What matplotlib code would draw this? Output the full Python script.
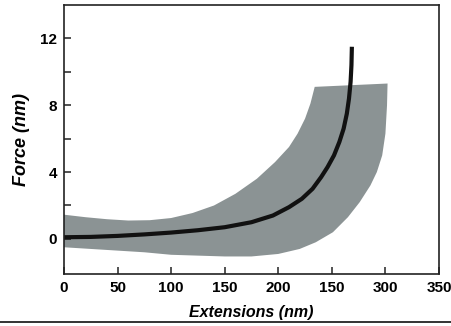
import numpy as np
import matplotlib
matplotlib.use("Agg")
import matplotlib.pyplot as plt
from matplotlib.lines import Line2D

plt.rcParams['font.family'] = ['Liberation Sans', 'DejaVu Sans']

# black force-extension curve
curve_x = [0, 25, 50, 75, 100, 125, 150, 175, 195, 210, 222, 232, 240, 246,
           252, 257, 261, 264, 266, 267.5, 268.3, 268.7]
curve_y = [0.1, 0.12, 0.18, 0.27, 0.38, 0.52, 0.7, 1.0, 1.4, 1.9, 2.4, 3.0, 3.7,
           4.3, 5.0, 5.8, 6.6, 7.5, 8.4, 9.4, 10.4, 11.5]

# grey band, upper edge (left to right)
upper_x = [0, 20, 40, 60, 80, 100, 120, 140, 160, 180, 197, 210, 218, 225, 230, 234, 302]
upper_y = [1.45, 1.3, 1.18, 1.1, 1.12, 1.25, 1.55, 2.0, 2.7, 3.6, 4.6, 5.5, 6.3,
           7.2, 8.1, 9.1, 9.3]
# grey band, lower edge (right to left)
lower_x = [301.5, 300, 297, 292, 286, 276, 265, 251, 235, 220, 200, 175, 150,
           125, 100, 75, 50, 25, 0]
lower_y = [8.0, 6.3, 5.0, 4.0, 3.2, 2.2, 1.3, 0.4, -0.2, -0.6, -0.9, -1.05,
           -1.05, -1.0, -0.95, -0.8, -0.7, -0.6, -0.5]

xticks = [0, 50, 100, 150, 200, 250, 300, 350]
xtick_labels = ['0', '50', '100', '150', '200', '150', '300', '350']
yticks = [0, 4, 8, 12]
yminor = [2, 6, 10]

fig = plt.figure(figsize=(4.52, 3.26), dpi=100)
ax = fig.add_axes([0.1416, 0.1595, 0.8296, 0.8252])

ax.fill(upper_x + lower_x, upper_y + lower_y, color='#8b9394', lw=0, zorder=1)
ax.plot(curve_x, curve_y, color='#111111', lw=3.0, solid_capstyle='butt', zorder=2)

ax.set_xlim(0, 350)
ax.set_ylim(-2.1, 14.0)
ax.set_xticks(xticks)
ax.set_xticklabels(xtick_labels)
ax.set_yticks(yticks)
ax.set_yticks(yminor, minor=True)

for s in ['top', 'right', 'left', 'bottom']:
    ax.spines[s].set_linewidth(1.2)
    ax.spines[s].set_color('#222222')

ax.tick_params(axis='both', which='both', direction='in', length=5, width=1.1,
               color='#222222', top=False, right=False)
ax.tick_params(axis='both', which='major', labelsize=11, pad=5)
for lab in ax.get_xticklabels() + ax.get_yticklabels():
    lab.set_fontweight('bold')

ax.set_xlabel('Extensions (nm)', fontsize=11.5, fontweight='bold', style='italic', labelpad=7)
ax.set_ylabel('Force (nm)', fontsize=13, fontweight='bold', style='italic', labelpad=7)

fig.add_artist(Line2D([0, 1], [1 - 322 / 326, 1 - 322 / 326], color='#111111', lw=1.2,
                      transform=fig.transFigure))

fig.savefig('out.png', dpi=100)
